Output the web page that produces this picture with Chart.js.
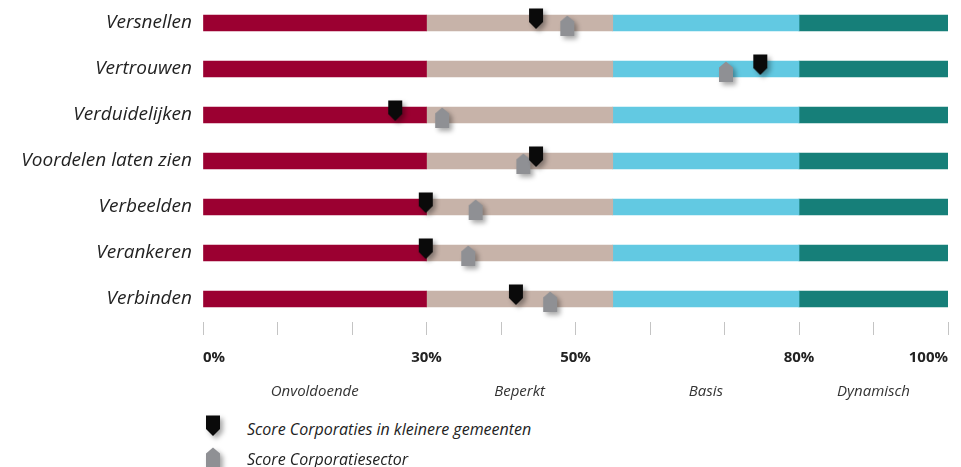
<!DOCTYPE html>
<html>
<head>
<meta charset="utf-8">
<script src="https://cdn.jsdelivr.net/npm/chart.js@4/dist/chart.umd.min.js"></script>
<style>
  body { margin: 0; background: #fff; font-family: 'Open Sans', sans-serif; }
  #wrap { position: relative; width: 961px; height: 400px; }
  .legend-mark { position: absolute; }
  .legend-text { position: absolute; left: 247px; font-style: italic; font-size: 16px; color: #222; line-height: 20px; }
</style>
</head>
<body>
<div id="wrap"><canvas id="score_chart"></canvas></div>
<div id="legend"></div>

<script>
// rows, top to bottom
const rows = ['Versnellen', 'Vertrouwen', 'Verduidelijken', 'Voordelen laten zien', 'Verbeelden', 'Verankeren', 'Verbinden'];

// score bands
const zones = ['Onvoldoende', 'Beperkt', 'Basis', 'Dynamisch'];
const zoneBounds = [0, 30, 55, 80, 100];
const zoneColors = ['#9b0031', '#c7b3a9', '#62c9e2', '#167f79'];

// scores
const smallTownScores = [44.7, 74.8, 25.8, 44.7, 29.9, 29.9, 42.0];
const sectorScores = [48.9, 70.2, 32.1, 43.0, 36.6, 35.6, 46.6];

const seriesNames = ['Score Corporaties in kleinere gemeenten', 'Score Corporatiesector'];

// x axis labels that are printed
const tickLabels = [0, 30, 50, 80, 100];


/* =========================
   Marker glyphs
========================= */
function makeMarker(color, down) {
    const c = document.createElement('canvas');
    c.width = 40;
    c.height = 60;
    const g = c.getContext('2d');
    g.translate(20, 30);
    g.shadowColor = 'rgba(0,0,0,0.35)';
    g.shadowBlur = 5;
    g.shadowOffsetX = 3;
    g.shadowOffsetY = 3;
    g.fillStyle = color;
    g.beginPath();
    if (down) {
        g.moveTo(-7, -14.5);
        g.lineTo(7, -14.5);
        g.lineTo(7, -1);
        g.lineTo(0, 6);
        g.lineTo(-7, -1);
    } else {
        g.moveTo(0, -7.5);
        g.lineTo(7, -1.5);
        g.lineTo(7, 13);
        g.lineTo(-7, 13);
        g.lineTo(-7, -1.5);
    }
    g.closePath();
    g.fill();
    return c;
}

const blackMark = makeMarker('#0a0a0a', true);
const greyMark = makeMarker('#8f9094', false);


/* =========================
   Datasets
========================= */
const bandSets = zones.map((name, i) => ({
    type: 'bar',
    label: name,
    data: rows.map(() => [zoneBounds[i], zoneBounds[i + 1]]),
    backgroundColor: zoneColors[i],
    borderWidth: 0,
    barThickness: 16,
    grouped: false,
    order: 2
}));

const markerSet = (label, data, style, order) => ({
    type: 'line',
    label: label,
    indexAxis: 'y',
    data: data,
    showLine: false,
    pointStyle: style,
    pointRadius: 7,
    pointHoverRadius: 7,
    order: order
});

const zoneMids = zones.map((z, i) => (zoneBounds[i] + zoneBounds[i + 1]) / 2);

const ctx = document.getElementById('score_chart').getContext('2d');

new Chart(ctx, {
    data: {
        labels: rows,
        datasets: [
            ...bandSets,
            markerSet(seriesNames[0], smallTownScores, blackMark, 0),
            markerSet(seriesNames[1], sectorScores, greyMark, 1)
        ]
    },
    options: {
        indexAxis: 'y',
        responsive: true,
        maintainAspectRatio: false,
        animation: false,
        layout: {
            autoPadding: false,
            padding: { top: 0, right: 13, bottom: 0, left: 0 }
        },
        plugins: {
            legend: { display: false },
            tooltip: { enabled: false }
        },
        scales: {
            y: {
                type: 'category',
                grid: { display: false },
                border: { display: false },
                ticks: {
                    color: '#222',
                    padding: 3,
                    font: { family: 'Open Sans', size: 19, style: 'italic' }
                },
                afterFit: s => {
                    s.width = 203;
                    s.paddingTop = 0;
                    s.paddingBottom = 0;
                }
            },
            x: {
                type: 'linear',
                position: 'bottom',
                min: 0,
                max: 100,
                border: { display: false },
                grid: {
                    drawOnChartArea: false,
                    drawTicks: true,
                    tickLength: 13,
                    color: '#c4c4c4'
                },
                ticks: {
                    stepSize: 10,
                    autoSkip: false,
                    maxRotation: 0,
                    align: 'inner',
                    padding: 14,
                    color: '#222',
                    font: { family: 'Open Sans', size: 15, weight: 'bold' },
                    callback: v => tickLabels.includes(v) ? v + '%' : ''
                },
                afterFit: s => {
                    s.height = 48;
                    s.paddingLeft = 0;
                    s.paddingRight = 0;
                }
            },
            zone: {
                type: 'linear',
                position: 'bottom',
                min: 0,
                max: 100,
                border: { display: false },
                grid: { display: false },
                afterBuildTicks: axis => {
                    axis.ticks = zoneMids.map(v => ({ value: v }));
                },
                ticks: {
                    autoSkip: false,
                    maxRotation: 0,
                    padding: 5,
                    color: '#333',
                    font: { family: 'Open Sans', size: 15, style: 'italic' },
                    callback: (v, i) => zones[i]
                },
                afterFit: s => {
                    s.height = 30;
                    s.paddingLeft = 0;
                    s.paddingRight = 0;
                }
            }
        }
    }
});


/* =========================
   Legend
========================= */
const legend = document.getElementById('legend');
[[blackMark, 399.5, 419], [greyMark, 424.5, 449]].forEach(([mark, top, textTop], i) => {
    const c = document.createElement('canvas');
    c.width = 40;
    c.height = 60;
    c.className = 'legend-mark';
    c.style.left = '193px';
    c.style.top = top + 'px';
    c.getContext('2d').drawImage(mark, 0, 0);
    legend.appendChild(c);

    const t = document.createElement('div');
    t.className = 'legend-text';
    t.style.top = textTop + 'px';
    t.textContent = seriesNames[i];
    legend.appendChild(t);
});
</script>
</body>
</html>
